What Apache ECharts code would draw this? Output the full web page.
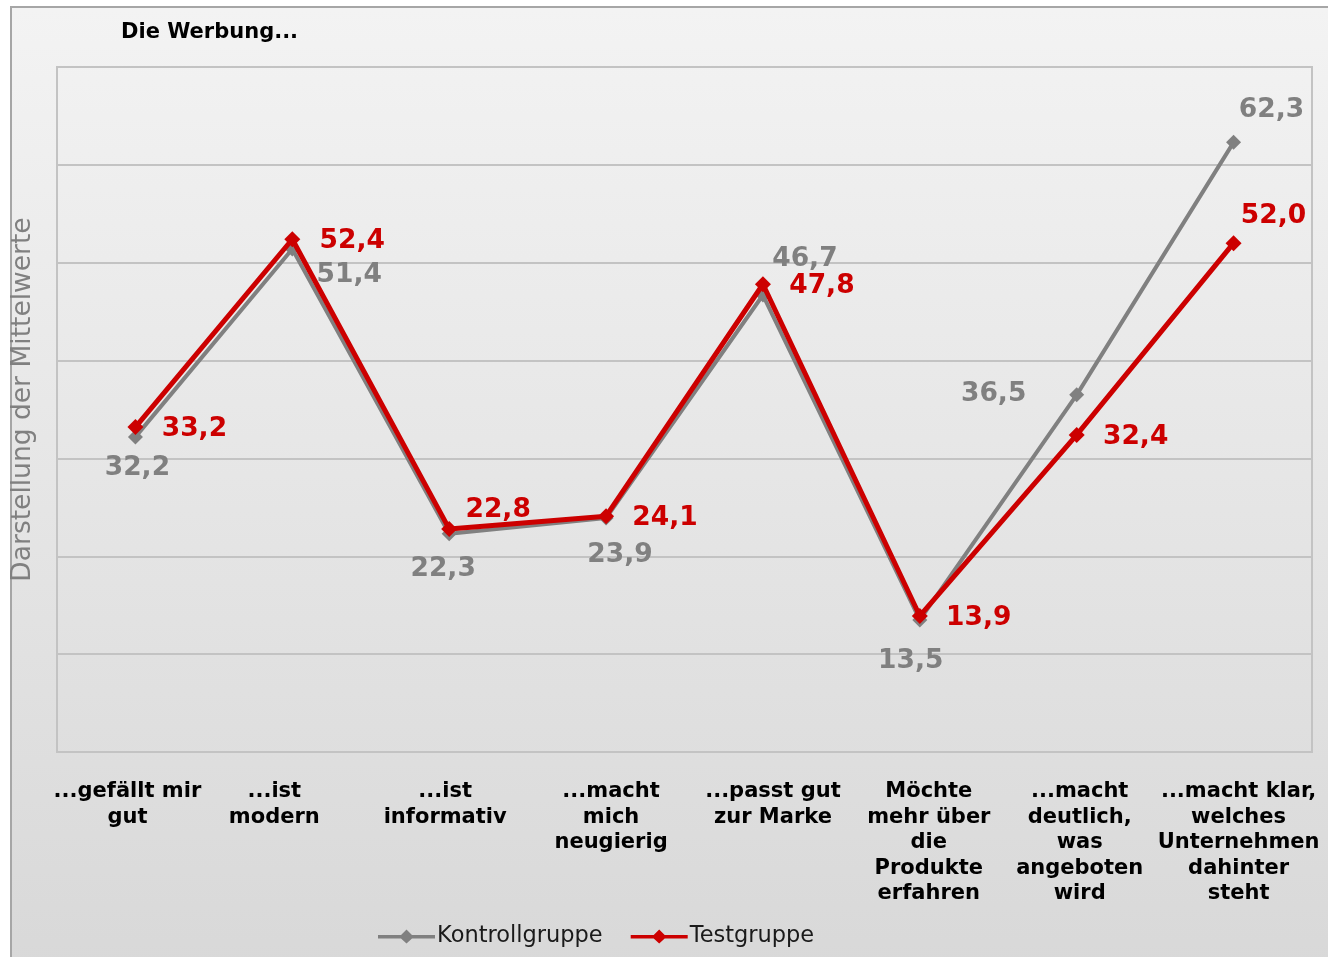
<!DOCTYPE html>
<html>
<head>
<meta charset="utf-8">
<script src="https://cdn.jsdelivr.net/npm/echarts@6/dist/echarts.min.js"></script>
<style>
  html, body { margin: 0; padding: 0; width: 1328px; height: 957px; overflow: hidden; background: #ffffff; }
  #frame { position: absolute; left: 10px; top: 6px; width: 1340px; height: 970px;
           border-left: 2px solid #a6a6a6; border-top: 2px solid #a6a6a6;
           background: linear-gradient(to bottom, #f3f3f3 0%, #d8d8d8 100%); }
  #chart { position: absolute; left: 0; top: 0; width: 1328px; height: 957px; }
</style>
</head>
<body>
<div id="frame"></div>
<div id="chart"></div>
<script>
// ---- data ----
const categories = [
  '...gefällt mir\ngut',
  '...ist\nmodern',
  '...ist\ninformativ',
  '...macht\nmich\nneugierig',
  '...passt gut\nzur Marke',
  'Möchte\nmehr über\ndie\nProdukte\nerfahren',
  '...macht\ndeutlich,\nwas\nangeboten\nwird',
  '...macht klar,\nwelches\nUnternehmen\ndahinter\nsteht'
];
const kontrollgruppe = [32.2, 51.4, 22.3, 23.9, 46.7, 13.5, 36.5, 62.3];
const testgruppe = [33.2, 52.4, 22.8, 24.1, 47.8, 13.9, 32.4, 52.0];
const seriesNames = ['Kontrollgruppe', 'Testgruppe'];
const titleText = 'Die Werbung...';
const yAxisName = 'Darstellung der Mittelwerte';

// ---- layout (px) ----
const kontrollOffsets = [[2, 31], [57, 26], [-6, 35], [14, 37], [42, -36], [-9, 41], [-83, -1], [38, -32]];
const testOffsets = [[59, 2], [60, 2], [49, -19], [59, 2], [59, 2], [59, 2], [59, 2], [40, -27]];
const categoryShift = [-8, -18, -4, 5, 10, 9, 3, 5];

const FONT = 'DejaVu Sans';
const GRAY = '#808080';
const RED = '#cc0000';
const fmt = v => v.toFixed(1).replace('.', ',');
const LEGEND_ICON = 'path://M0,5.5 L23,5.5 L28.5,0 L34,5.5 L57,5.5 L57,9 L34,9 L28.5,14 L23,9 L0,9 Z';

function buildData(values, offsets) {
  return values.map((v, i) => ({ value: v, label: { offset: offsets[i] } }));
}
const categoryData = categories.map((c, i) => {
  const d = categoryShift[i];
  return { value: c, textStyle: { padding: d >= 0 ? [0, 0, 0, 2 * d] : [0, -2 * d, 0, 0] } };
});

const chart = echarts.init(document.getElementById('chart'), null, { renderer: 'canvas' });
chart.setOption({
  backgroundColor: 'transparent',
  animation: false,
  textStyle: { fontFamily: FONT },
  title: {
    text: titleText,
    left: 121, top: 22, padding: 0,
    textStyle: { fontFamily: FONT, fontSize: 21, fontWeight: 'bold', color: '#000' }
  },
  legend: {
    data: [
      { name: seriesNames[0], icon: LEGEND_ICON },
      { name: seriesNames[1], icon: LEGEND_ICON }
    ],
    left: 378, top: 925, padding: 0,
    itemWidth: 57, itemHeight: 14, itemGap: 28,
    textStyle: { fontFamily: FONT, fontSize: 22.5, color: '#1a1a1a', padding: [0, 0, 0, -3] }
  },
  grid: {
    left: 57, right: 16, top: 67, bottom: 205,
    show: true, borderColor: '#c3c3c3', borderWidth: 2, backgroundColor: 'transparent'
  },
  xAxis: {
    type: 'category',
    data: categoryData,
    boundaryGap: true,
    axisLine: { show: true, lineStyle: { color: '#c3c3c3', width: 2 } },
    axisTick: { show: false },
    axisLabel: {
      interval: 0, margin: 27,
      fontFamily: FONT, fontSize: 21, fontWeight: 'bold', color: '#000',
      lineHeight: 25.5, align: 'center'
    }
  },
  yAxis: {
    type: 'value',
    min: 0, max: 70, interval: 10,
    axisLabel: { show: false },
    axisLine: { show: false },
    axisTick: { show: false },
    splitLine: { show: true, lineStyle: { color: '#c3c3c3', width: 2 } },
    name: yAxisName,
    nameLocation: 'middle',
    nameGap: 20,
    nameRotate: 90,
    nameTextStyle: { fontFamily: FONT, fontSize: 26.5, color: GRAY, padding: [0, 0, 0, 20] }
  },
  series: [
    {
      name: seriesNames[0],
      type: 'line',
      data: buildData(kontrollgruppe, kontrollOffsets),
      symbol: 'diamond', symbolSize: 15,
      lineStyle: { color: GRAY, width: 4 },
      itemStyle: { color: GRAY },
      z: 2,
      label: {
        show: true, position: 'inside',
        formatter: p => fmt(p.value),
        fontFamily: FONT, fontSize: 26.5, fontWeight: 'bold', color: GRAY,
        align: 'center', verticalAlign: 'middle'
      }
    },
    {
      name: seriesNames[1],
      type: 'line',
      data: buildData(testgruppe, testOffsets),
      symbol: 'diamond', symbolSize: 16,
      lineStyle: { color: RED, width: 5 },
      itemStyle: { color: RED },
      z: 3,
      label: {
        show: true, position: 'inside',
        formatter: p => fmt(p.value),
        fontFamily: FONT, fontSize: 26.5, fontWeight: 'bold', color: RED,
        align: 'center', verticalAlign: 'middle'
      }
    }
  ]
});
</script>
</body>
</html>
